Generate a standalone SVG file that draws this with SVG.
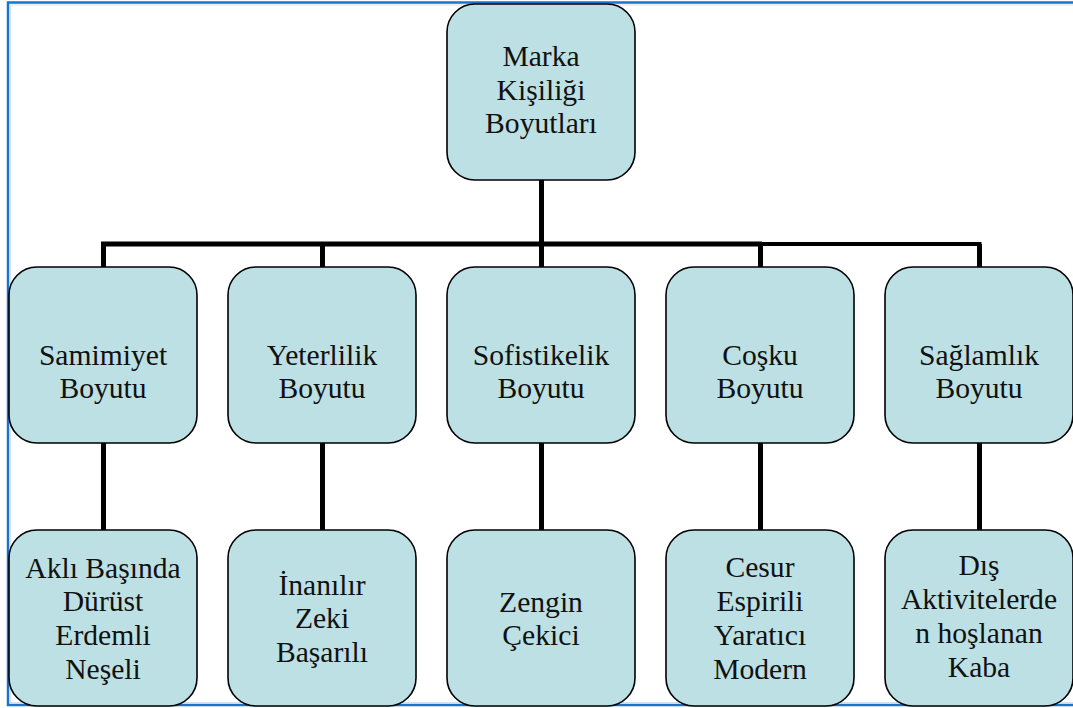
<svg xmlns="http://www.w3.org/2000/svg" width="1073" height="708" viewBox="0 0 1073 708">
  <style>
    .box { fill: #bce0e3; stroke: #000; stroke-width: 1.6; }
    .lbl { font-family: "Liberation Serif", "Times New Roman", serif; font-size: 29.6px; fill: #111; text-anchor: middle; }
    .wire { stroke: #000; stroke-width: 5; fill: none; }
    .wire-thin { stroke: #000; stroke-width: 4; fill: none; }
  </style>

  <rect width="1073" height="708" fill="#fff"/>
  <!-- page frame -->
  <rect x="8" y="2.5" width="1090" height="702.5" fill="none" stroke="#1b74c9" stroke-width="2.5"/>
  <rect x="10.5" y="5" width="1090" height="697.5" fill="none" stroke="#cfe3f5" stroke-width="1"/>

  <!-- connectors -->
  <g id="connectors">
    <line class="wire" x1="541.5" y1="180" x2="541.5" y2="267"/>
    <line class="wire" x1="101" y1="244" x2="762" y2="244"/>
    <line class="wire-thin" x1="760" y1="244" x2="981.5" y2="244"/>
    <line class="wire" x1="103.5" y1="244" x2="103.5" y2="267"/>
    <line class="wire" x1="322.5" y1="244" x2="322.5" y2="267"/>
    <line class="wire" x1="760.5" y1="244" x2="760.5" y2="267"/>
    <line class="wire" x1="979.5" y1="244" x2="979.5" y2="267"/>
    <line class="wire" x1="103.5" y1="443" x2="103.5" y2="530"/>
    <line class="wire" x1="322.5" y1="443" x2="322.5" y2="530"/>
    <line class="wire" x1="541.5" y1="443" x2="541.5" y2="530"/>
    <line class="wire" x1="760.5" y1="443" x2="760.5" y2="530"/>
    <line class="wire" x1="979.5" y1="443" x2="979.5" y2="530"/>
  </g>

  <!-- root -->
  <g id="root">
    <rect class="box" x="447" y="4" width="188" height="176" rx="28"/>
    <text class="lbl" x="541" y="66">Marka</text>
    <text class="lbl" x="541" y="100">Kişiliği</text>
    <text class="lbl" x="541" y="133">Boyutları</text>
  </g>

  <!-- dimensions -->
  <g id="samimiyet">
    <rect class="box" x="9" y="267" width="188" height="176" rx="28"/>
    <text class="lbl" x="103" y="365">Samimiyet</text>
    <text class="lbl" x="103" y="398">Boyutu</text>
  </g>
  <g id="yeterlilik">
    <rect class="box" x="228" y="267" width="188" height="176" rx="28"/>
    <text class="lbl" x="322" y="365">Yeterlilik</text>
    <text class="lbl" x="322" y="398">Boyutu</text>
  </g>
  <g id="sofistikelik">
    <rect class="box" x="447" y="267" width="188" height="176" rx="28"/>
    <text class="lbl" x="541" y="365">Sofistikelik</text>
    <text class="lbl" x="541" y="398">Boyutu</text>
  </g>
  <g id="cosku">
    <rect class="box" x="666" y="267" width="188" height="176" rx="28"/>
    <text class="lbl" x="760" y="365">Coşku</text>
    <text class="lbl" x="760" y="398">Boyutu</text>
  </g>
  <g id="saglamlik">
    <rect class="box" x="885" y="267" width="188" height="176" rx="28"/>
    <text class="lbl" x="979" y="365">Sağlamlık</text>
    <text class="lbl" x="979" y="398">Boyutu</text>
  </g>

  <!-- traits -->
  <g id="samimiyet-traits">
    <rect class="box" x="9" y="530" width="188" height="176" rx="28"/>
    <text class="lbl" x="103" y="578">Aklı Başında</text>
    <text class="lbl" x="103" y="611">Dürüst</text>
    <text class="lbl" x="103" y="645">Erdemli</text>
    <text class="lbl" x="103" y="679">Neşeli</text>
  </g>
  <g id="yeterlilik-traits">
    <rect class="box" x="228" y="530" width="188" height="176" rx="28"/>
    <text class="lbl" x="322" y="595">İnanılır</text>
    <text class="lbl" x="322" y="628">Zeki</text>
    <text class="lbl" x="322" y="662">Başarılı</text>
  </g>
  <g id="sofistikelik-traits">
    <rect class="box" x="447" y="530" width="188" height="176" rx="28"/>
    <text class="lbl" x="541" y="612">Zengin</text>
    <text class="lbl" x="541" y="645">Çekici</text>
  </g>
  <g id="cosku-traits">
    <rect class="box" x="666" y="530" width="188" height="176" rx="28"/>
    <text class="lbl" x="760" y="577">Cesur</text>
    <text class="lbl" x="760" y="611">Espirili</text>
    <text class="lbl" x="760" y="645">Yaratıcı</text>
    <text class="lbl" x="760" y="679">Modern</text>
  </g>
  <g id="saglamlik-traits">
    <rect class="box" x="885" y="530" width="188" height="176" rx="28"/>
    <text class="lbl" x="979" y="575">Dış</text>
    <text class="lbl" x="979" y="609">Aktivitelerde</text>
    <text class="lbl" x="979" y="643">n hoşlanan</text>
    <text class="lbl" x="979" y="677">Kaba</text>
  </g>
</svg>
